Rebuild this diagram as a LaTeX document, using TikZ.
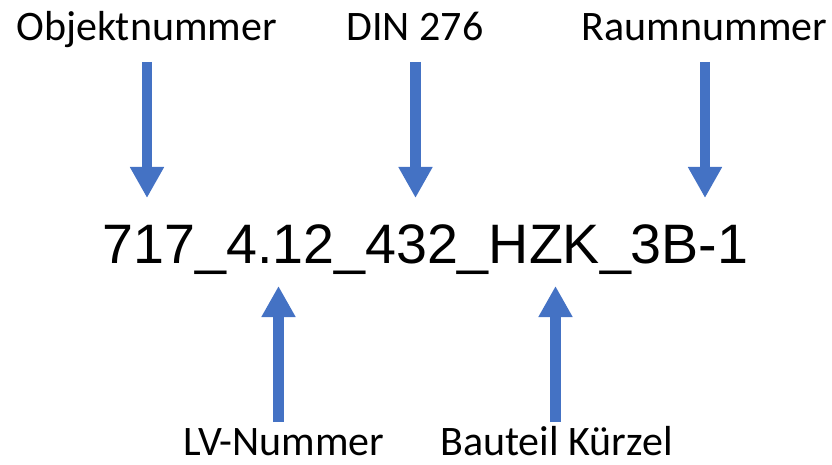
\documentclass[tikz,border=0pt]{standalone}
\usepackage{fontspec}
\setmainfont{Carlito}
\newfontfamily\codefont{Liberation Sans}
\usetikzlibrary{arrows.meta}
\definecolor{officeblue}{HTML}{4472C4}
\tikzset{
  label/.style={inner sep=0pt, anchor=base, font=\fontsize{42}{48}\selectfont, text=black},
  code/.style={inner sep=0pt, anchor=base, font=\codefont\fontsize{55.6}{60}\selectfont, text=black},
  bluearrow/.style={draw=officeblue, line width=10.5pt, -{Triangle[width=32pt,length=31pt]}, officeblue}
}
\begin{document}
\begin{tikzpicture}[x=1pt,y=1pt]
\useasboundingbox (0,0) rectangle (832,-465);
\node[label] (objekt) at (146.5,-41) {Objektnummer};
\node[label] (din) at (415,-41) {DIN 276};
\node[label] (raum) at (704.5,-41) {Raumnummer};
\node[code] (code) at (425.5,-263) {717\_4.12\_432\_HZK\_3B-1};
\node[label] (lv) at (284,-455) {LV-Nummer};
\node[label] (bauteil) at (556.5,-455) {Bauteil Kürzel};
\coordinate (objA) at (147,-62);
\coordinate (objB) at (147,-198);
\coordinate (dinA) at (415.5,-62);
\coordinate (dinB) at (415.5,-198);
\coordinate (raumA) at (705,-62);
\coordinate (raumB) at (705,-198);
\coordinate (lvA) at (278.5,-422);
\coordinate (lvB) at (278.5,-286);
\coordinate (bauA) at (555.5,-422);
\coordinate (bauB) at (555.5,-286);
\draw[bluearrow] (objA) -- (objB);
\draw[bluearrow] (dinA) -- (dinB);
\draw[bluearrow] (raumA) -- (raumB);
\draw[bluearrow] (lvA) -- (lvB);
\draw[bluearrow] (bauA) -- (bauB);
\end{tikzpicture}
\end{document}
